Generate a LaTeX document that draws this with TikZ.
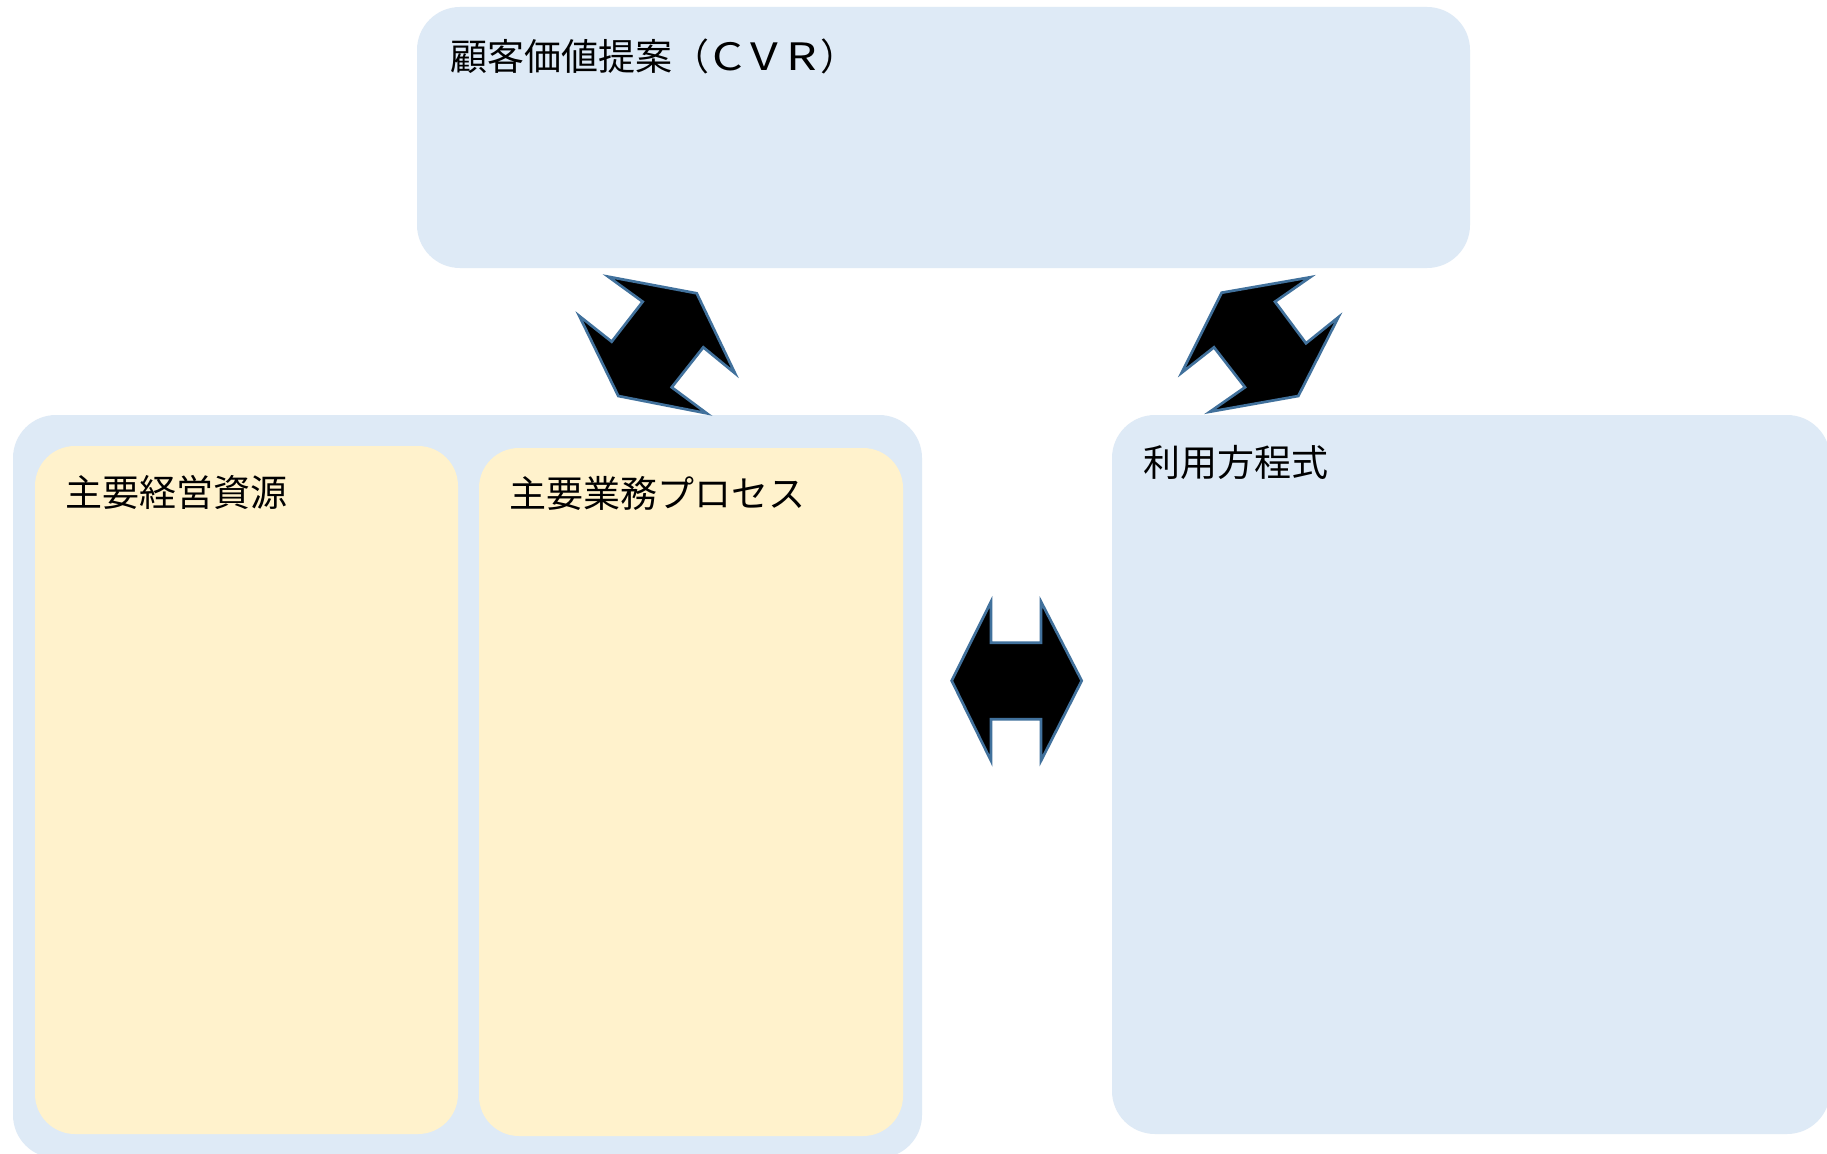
\documentclass[tikz,border=0pt]{standalone}
\usepackage{fontspec}
\usepackage{graphicx}
\newfontfamily\jp{Noto Sans CJK JP}
\definecolor{boxblue}{HTML}{DEEAF6}
\definecolor{boxyellow}{HTML}{FFF2CC}
\definecolor{arrowline}{HTML}{41719C}
\newcommand{\wideletter}[1]{\makebox[37pt][c]{\scalebox{1.3}[1.02]{#1}}}
\begin{document}
\begin{tikzpicture}[x=1pt,y=-1pt,
  panel/.style={fill=boxblue, rounded corners=43pt},
  innerpanel/.style={fill=boxyellow, rounded corners=40pt},
  blockarrow/.style={fill=black, draw=arrowline, line width=2.7pt, line join=miter},
  lbl/.style={anchor=west, inner sep=0pt, font=\jp\fontsize{37pt}{44pt}\selectfont, text=black}]
\useasboundingbox (0,0) rectangle (1827,1153);
\clip (0,0) rectangle (1827,1153);
\fill[white] (0,0) rectangle (1827,1153);

% panels
\path[panel] (417,7) rectangle (1470,268);
\path[panel] (13,415) rectangle (922,1158);
\path[panel] (1112,415) rectangle (1830,1134);
\path[innerpanel] (35,446) rectangle (458,1134);
\path[innerpanel] (479,448) rectangle (903,1136);

% labels
\node[lbl] (cvr) at (450,56) {顧客価値提案（\wideletter{C}\wideletter{V}\wideletter{R}）};
\node[lbl] (res) at (65,492) {主要経営資源};
\node[lbl] (proc) at (509,493) {主要業務プロセス};
\node[lbl] (eq) at (1143,462) {利用方程式};

% block arrows
\draw[blockarrow] (608.3,276.7) -- (696.7,293.3) -- (735,373.3) -- (703.3,347.3)
  -- (671.7,387.3) -- (706.7,413.3) -- (618.3,396) -- (579.3,316)
  -- (611.7,341.7) -- (642.7,301.7) -- cycle;
\draw[blockarrow] (1310,277.3) -- (1275,301.7) -- (1306,343.3) -- (1338.3,317.3)
  -- (1298.3,396) -- (1210,411.7) -- (1245,387.3) -- (1214,347.3)
  -- (1181.7,372.7) -- (1221.7,292.7) -- cycle;
\draw[blockarrow] (951.7,680.7) -- (991,601.7) -- (991,642.7) -- (1041,642.7)
  -- (1041,601.7) -- (1081.7,680.7) -- (1041,760.7) -- (1041,719.3)
  -- (991,719.3) -- (991,760.7) -- cycle;
\end{tikzpicture}
\end{document}
